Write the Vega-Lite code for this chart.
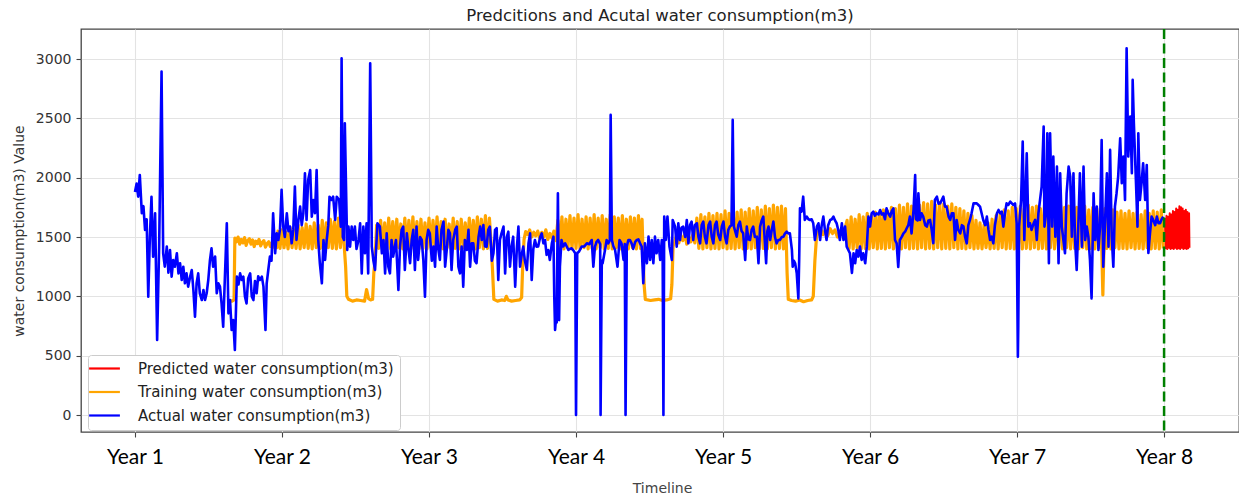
{
"$schema": "https://vega.github.io/schema/vega-lite/v6.json",
"width": 1158, "height": 403,
"autosize": {"type": "none"},
"padding": {"left": 81, "top": 29, "right": 0, "bottom": 64},
"background": "white",
"title": {"text": "Predcitions and Acutal water consumption(m3)", "font": "DejaVu Sans", "fontSize": 16.5, "fontWeight": "normal", "color": "#222222", "anchor": "middle", "baseline": "alphabetic", "offset": 8, "dy": 18},
"config": {
 "view": {"stroke": "#444444", "strokeWidth": 1.3},
 "axis": {"gridColor": "#e3e3e3", "gridWidth": 1.1, "domain": false, "tickColor": "#444444", "tickWidth": 1.1, "tickSize": 5}
},
"datasets": {
"actual": [
{"t":0,"v":1880},{"t":4,"v":1950},{"t":8,"v":1840},{"t":12,"v":2023},{"t":17,"v":1700},{"t":21,"v":1760},{"t":25,"v":1560},{"t":29,"v":1650},{"t":33,"v":997},{"t":37,"v":1500},{"t":41,"v":1840},{"t":45,"v":1335},{"t":50,"v":1700},{"t":55,"v":632},{"t":60,"v":1419},{"t":66,"v":2894},{"t":70,"v":1363},{"t":74,"v":1250},{"t":79,"v":1419},{"t":83,"v":1200},{"t":87,"v":1391},{"t":91,"v":1166},{"t":95,"v":1307},{"t":99,"v":1250},{"t":104,"v":1363},{"t":108,"v":1194},{"t":112,"v":1279},{"t":116,"v":1138},{"t":120,"v":1250},{"t":124,"v":1110},{"t":128,"v":1194},{"t":132,"v":1082},{"t":137,"v":1166},{"t":141,"v":1222},{"t":145,"v":1054},{"t":149,"v":829},{"t":153,"v":1110},{"t":157,"v":1194},{"t":161,"v":1026},{"t":166,"v":969},{"t":170,"v":1054},{"t":174,"v":969},{"t":178,"v":1026},{"t":182,"v":1138},{"t":186,"v":1300},{"t":190,"v":1405},{"t":194,"v":1250},{"t":199,"v":1335},{"t":203,"v":1026},{"t":207,"v":1110},{"t":211,"v":1082},{"t":215,"v":941},{"t":219,"v":745},{"t":223,"v":1138},{"t":228,"v":1616},{"t":232,"v":857},{"t":236,"v":969},{"t":240,"v":717},{"t":244,"v":800},{"t":248,"v":548},{"t":253,"v":1166},{"t":257,"v":1100},{"t":261,"v":1194},{"t":265,"v":1138},{"t":269,"v":1166},{"t":273,"v":1000},{"t":277,"v":941},{"t":281,"v":1150},{"t":286,"v":1194},{"t":290,"v":1000},{"t":294,"v":969},{"t":298,"v":1130},{"t":302,"v":1026},{"t":306,"v":1170},{"t":310,"v":1138},{"t":315,"v":1166},{"t":319,"v":1082},{"t":324,"v":717},{"t":327,"v":1110},{"t":331,"v":1222},{"t":335,"v":1335},{"t":339,"v":1300},{"t":343,"v":1700},{"t":348,"v":1363},{"t":352,"v":1531},{"t":356,"v":1475},{"t":360,"v":1560},{"t":364,"v":1897},{"t":368,"v":1588},{"t":372,"v":1500},{"t":377,"v":1700},{"t":381,"v":1550},{"t":385,"v":1588},{"t":389,"v":1447},{"t":393,"v":1560},{"t":397,"v":1925},{"t":401,"v":1475},{"t":406,"v":1650},{"t":410,"v":1756},{"t":414,"v":1600},{"t":418,"v":1700},{"t":422,"v":2037},{"t":426,"v":1644},{"t":430,"v":1981},{"t":435,"v":2065},{"t":439,"v":1672},{"t":443,"v":1812},{"t":447,"v":1700},{"t":451,"v":2065},{"t":455,"v":1475},{"t":459,"v":1279},{"t":464,"v":1110},{"t":468,"v":1475},{"t":472,"v":1307},{"t":476,"v":1475},{"t":480,"v":1600},{"t":483,"v":1840},{"t":488,"v":1812},{"t":492,"v":1840},{"t":497,"v":1644},{"t":501,"v":1840},{"t":507,"v":1812},{"t":511,"v":1588},{"t":513,"v":3007},{"t":516,"v":1500},{"t":519,"v":1475},{"t":521,"v":2459},{"t":527,"v":1391},{"t":530,"v":1588},{"t":534,"v":1419},{"t":538,"v":1588},{"t":542,"v":1475},{"t":546,"v":1588},{"t":550,"v":1400},{"t":555,"v":1475},{"t":559,"v":1616},{"t":563,"v":1194},{"t":567,"v":1588},{"t":571,"v":1363},{"t":575,"v":1616},{"t":579,"v":1194},{"t":584,"v":2965},{"t":588,"v":1419},{"t":592,"v":1300},{"t":596,"v":1222},{"t":602,"v":1616},{"t":608,"v":1588},{"t":613,"v":1363},{"t":617,"v":1475},{"t":621,"v":1194},{"t":625,"v":1531},{"t":629,"v":1250},{"t":633,"v":1194},{"t":637,"v":1475},{"t":641,"v":1335},{"t":648,"v":1475},{"t":654,"v":1054},{"t":658,"v":1419},{"t":662,"v":1560},{"t":666,"v":1588},{"t":670,"v":1222},{"t":675,"v":1531},{"t":679,"v":1400},{"t":683,"v":1279},{"t":687,"v":1475},{"t":691,"v":1560},{"t":695,"v":1222},{"t":699,"v":1588},{"t":703,"v":1307},{"t":708,"v":1500},{"t":712,"v":1475},{"t":716,"v":1300},{"t":720,"v":997},{"t":724,"v":1475},{"t":728,"v":1560},{"t":732,"v":1531},{"t":737,"v":1300},{"t":741,"v":1419},{"t":745,"v":1250},{"t":749,"v":1588},{"t":753,"v":1400},{"t":757,"v":1307},{"t":761,"v":1560},{"t":766,"v":1630},{"t":770,"v":1250},{"t":774,"v":1391},{"t":778,"v":1560},{"t":782,"v":1531},{"t":786,"v":1222},{"t":790,"v":1475},{"t":795,"v":1560},{"t":799,"v":1588},{"t":803,"v":1250},{"t":807,"v":1194},{"t":811,"v":1419},{"t":815,"v":1082},{"t":819,"v":1475},{"t":824,"v":1391},{"t":828,"v":1560},{"t":832,"v":1250},{"t":836,"v":1447},{"t":840,"v":1447},{"t":844,"v":1300},{"t":848,"v":1279},{"t":853,"v":1500},{"t":857,"v":1588},{"t":861,"v":1475},{"t":865,"v":1600},{"t":869,"v":1420},{"t":873,"v":1419},{"t":877,"v":1560},{"t":881,"v":1588},{"t":886,"v":1300},{"t":890,"v":1363},{"t":894,"v":1560},{"t":898,"v":1574},{"t":902,"v":1138},{"t":906,"v":1475},{"t":910,"v":1531},{"t":915,"v":1588},{"t":919,"v":1194},{"t":923,"v":1500},{"t":927,"v":1545},{"t":931,"v":1250},{"t":935,"v":1420},{"t":939,"v":1503},{"t":944,"v":1082},{"t":948,"v":1400},{"t":952,"v":1588},{"t":956,"v":1250},{"t":960,"v":1350},{"t":964,"v":1419},{"t":968,"v":1300},{"t":973,"v":1222},{"t":977,"v":1447},{"t":981,"v":1531},{"t":985,"v":1138},{"t":989,"v":1400},{"t":993,"v":1475},{"t":997,"v":1419},{"t":1001,"v":1420},{"t":1006,"v":1500},{"t":1010,"v":1531},{"t":1014,"v":1447},{"t":1018,"v":1475},{"t":1022,"v":1350},{"t":1026,"v":1391},{"t":1030,"v":1307},{"t":1035,"v":1447},{"t":1039,"v":1503},{"t":1041,"v":1000},{"t":1043,"v":717},{"t":1045,"v":800},{"t":1047,"v":780},{"t":1050,"v":1869},{"t":1053,"v":800},{"t":1055,"v":1250},{"t":1059,"v":1475},{"t":1063,"v":1420},{"t":1068,"v":1447},{"t":1072,"v":1420},{"t":1076,"v":1391},{"t":1080,"v":1400},{"t":1084,"v":1405},{"t":1088,"v":1390},{"t":1093,"v":1363},{"t":1095,"v":0},{"t":1098,"v":1363},{"t":1103,"v":1380},{"t":1109,"v":1419},{"t":1115,"v":1420},{"t":1122,"v":1447},{"t":1128,"v":1440},{"t":1134,"v":1475},{"t":1138,"v":1250},{"t":1142,"v":1419},{"t":1146,"v":1460},{"t":1150,"v":1475},{"t":1155,"v":1440},{"t":1156,"v":0},{"t":1159,"v":1300},{"t":1161,"v":1279},{"t":1167,"v":1391},{"t":1171,"v":1475},{"t":1175,"v":1447},{"t":1179,"v":1475},{"t":1181,"v":2529},{"t":1184,"v":1475},{"t":1188,"v":1420},{"t":1192,"v":1391},{"t":1198,"v":1250},{"t":1203,"v":1475},{"t":1208,"v":1447},{"t":1213,"v":1307},{"t":1216,"v":1440},{"t":1218,"v":0},{"t":1221,"v":1420},{"t":1225,"v":1475},{"t":1229,"v":1475},{"t":1233,"v":1447},{"t":1237,"v":1400},{"t":1242,"v":1460},{"t":1246,"v":1475},{"t":1250,"v":1480},{"t":1254,"v":1447},{"t":1258,"v":1420},{"t":1262,"v":1110},{"t":1266,"v":1447},{"t":1271,"v":1279},{"t":1275,"v":1503},{"t":1279,"v":1307},{"t":1283,"v":1475},{"t":1287,"v":1279},{"t":1291,"v":1503},{"t":1295,"v":1363},{"t":1299,"v":1475},{"t":1304,"v":1307},{"t":1308,"v":1475},{"t":1310,"v":1400},{"t":1312,"v":0},{"t":1314,"v":1672},{"t":1318,"v":1475},{"t":1322,"v":1672},{"t":1327,"v":1419},{"t":1333,"v":1307},{"t":1335,"v":1644},{"t":1341,"v":1588},{"t":1345,"v":1419},{"t":1349,"v":1616},{"t":1353,"v":1475},{"t":1357,"v":1580},{"t":1361,"v":1588},{"t":1366,"v":1500},{"t":1370,"v":1644},{"t":1374,"v":1447},{"t":1378,"v":1600},{"t":1382,"v":1630},{"t":1386,"v":1475},{"t":1390,"v":1600},{"t":1395,"v":1616},{"t":1399,"v":1500},{"t":1403,"v":1447},{"t":1407,"v":1600},{"t":1411,"v":1630},{"t":1415,"v":1500},{"t":1419,"v":1447},{"t":1424,"v":1600},{"t":1428,"v":1630},{"t":1432,"v":1500},{"t":1436,"v":1447},{"t":1440,"v":1600},{"t":1444,"v":1630},{"t":1448,"v":1520},{"t":1453,"v":1475},{"t":1457,"v":1590},{"t":1461,"v":1630},{"t":1465,"v":1500},{"t":1469,"v":1447},{"t":1473,"v":1560},{"t":1477,"v":1588},{"t":1481,"v":1600},{"t":1484,"v":2487},{"t":1487,"v":1588},{"t":1494,"v":1503},{"t":1498,"v":1600},{"t":1502,"v":1630},{"t":1506,"v":1550},{"t":1510,"v":1531},{"t":1515,"v":1307},{"t":1519,"v":1588},{"t":1523,"v":1480},{"t":1527,"v":1475},{"t":1531,"v":1560},{"t":1535,"v":1588},{"t":1539,"v":1500},{"t":1544,"v":1503},{"t":1548,"v":1279},{"t":1552,"v":1588},{"t":1556,"v":1640},{"t":1560,"v":1672},{"t":1564,"v":1450},{"t":1567,"v":1279},{"t":1570,"v":1550},{"t":1573,"v":1588},{"t":1577,"v":1475},{"t":1581,"v":1560},{"t":1585,"v":1630},{"t":1589,"v":1500},{"t":1593,"v":1447},{"t":1597,"v":1475},{"t":1601,"v":1475},{"t":1606,"v":1500},{"t":1610,"v":1503},{"t":1614,"v":1531},{"t":1618,"v":1545},{"t":1622,"v":1531},{"t":1626,"v":1531},{"t":1631,"v":1391},{"t":1633,"v":1250},{"t":1636,"v":1300},{"t":1639,"v":1279},{"t":1643,"v":1194},{"t":1647,"v":983},{"t":1649,"v":1300},{"t":1651,"v":1742},{"t":1655,"v":1714},{"t":1659,"v":1840},{"t":1663,"v":1644},{"t":1668,"v":1672},{"t":1672,"v":1650},{"t":1676,"v":1644},{"t":1680,"v":1650},{"t":1684,"v":1616},{"t":1688,"v":1475},{"t":1693,"v":1588},{"t":1697,"v":1616},{"t":1701,"v":1475},{"t":1705,"v":1600},{"t":1709,"v":1672},{"t":1713,"v":1560},{"t":1717,"v":1475},{"t":1721,"v":1600},{"t":1726,"v":1644},{"t":1730,"v":1650},{"t":1734,"v":1672},{"t":1738,"v":1640},{"t":1742,"v":1616},{"t":1746,"v":1560},{"t":1750,"v":1475},{"t":1755,"v":1616},{"t":1759,"v":1475},{"t":1763,"v":1588},{"t":1767,"v":1419},{"t":1771,"v":1391},{"t":1775,"v":1363},{"t":1780,"v":1197},{"t":1784,"v":1363},{"t":1788,"v":1279},{"t":1792,"v":1391},{"t":1796,"v":1335},{"t":1800,"v":1419},{"t":1804,"v":1307},{"t":1808,"v":1363},{"t":1813,"v":1279},{"t":1817,"v":1419},{"t":1821,"v":1672},{"t":1825,"v":1588},{"t":1829,"v":1700},{"t":1833,"v":1714},{"t":1837,"v":1680},{"t":1841,"v":1700},{"t":1846,"v":1690},{"t":1850,"v":1728},{"t":1854,"v":1690},{"t":1858,"v":1700},{"t":1862,"v":1650},{"t":1866,"v":1742},{"t":1870,"v":1700},{"t":1875,"v":1672},{"t":1879,"v":1720},{"t":1883,"v":1742},{"t":1887,"v":1475},{"t":1891,"v":1447},{"t":1895,"v":1248},{"t":1899,"v":1475},{"t":1904,"v":1503},{"t":1908,"v":1531},{"t":1912,"v":1545},{"t":1916,"v":1574},{"t":1920,"v":1600},{"t":1924,"v":1672},{"t":1928,"v":1531},{"t":1933,"v":1728},{"t":1937,"v":2023},{"t":1939,"v":1650},{"t":1943,"v":1640},{"t":1945,"v":1869},{"t":1949,"v":1644},{"t":1953,"v":1700},{"t":1957,"v":1672},{"t":1962,"v":1600},{"t":1966,"v":1588},{"t":1970,"v":1640},{"t":1974,"v":1644},{"t":1978,"v":1560},{"t":1982,"v":1447},{"t":1986,"v":1812},{"t":1991,"v":1840},{"t":1995,"v":1780},{"t":1999,"v":1784},{"t":2003,"v":1812},{"t":2007,"v":1840},{"t":2011,"v":1756},{"t":2015,"v":1756},{"t":2020,"v":1672},{"t":2024,"v":1644},{"t":2028,"v":1700},{"t":2032,"v":1700},{"t":2036,"v":1475},{"t":2040,"v":1644},{"t":2044,"v":1560},{"t":2049,"v":1531},{"t":2053,"v":1600},{"t":2057,"v":1588},{"t":2061,"v":1500},{"t":2065,"v":1447},{"t":2069,"v":1600},{"t":2073,"v":1644},{"t":2077,"v":1700},{"t":2082,"v":1784},{"t":2086,"v":1784},{"t":2090,"v":1784},{"t":2094,"v":1770},{"t":2098,"v":1756},{"t":2102,"v":1700},{"t":2106,"v":1644},{"t":2111,"v":1600},{"t":2115,"v":1672},{"t":2119,"v":1560},{"t":2123,"v":1475},{"t":2127,"v":1503},{"t":2131,"v":1447},{"t":2135,"v":1600},{"t":2140,"v":1700},{"t":2144,"v":1728},{"t":2148,"v":1700},{"t":2152,"v":1714},{"t":2156,"v":1588},{"t":2160,"v":1700},{"t":2164,"v":1784},{"t":2168,"v":1770},{"t":2173,"v":1798},{"t":2177,"v":1784},{"t":2181,"v":1770},{"t":2185,"v":1784},{"t":2189,"v":1616},{"t":2192,"v":492},{"t":2193,"v":750},{"t":2195,"v":1588},{"t":2200,"v":1812},{"t":2204,"v":2304},{"t":2208,"v":1475},{"t":2214,"v":2206},{"t":2218,"v":1588},{"t":2222,"v":1616},{"t":2226,"v":1560},{"t":2231,"v":1616},{"t":2235,"v":1644},{"t":2239,"v":1475},{"t":2243,"v":1700},{"t":2247,"v":1812},{"t":2251,"v":1925},{"t":2256,"v":2431},{"t":2258,"v":1588},{"t":2262,"v":1700},{"t":2265,"v":2375},{"t":2269,"v":1279},{"t":2272,"v":2375},{"t":2277,"v":1588},{"t":2280,"v":2178},{"t":2285,"v":1503},{"t":2289,"v":2093},{"t":2293,"v":1279},{"t":2297,"v":2037},{"t":2301,"v":1588},{"t":2305,"v":1475},{"t":2309,"v":1363},{"t":2313,"v":1869},{"t":2318,"v":2093},{"t":2322,"v":2009},{"t":2326,"v":1503},{"t":2330,"v":2037},{"t":2334,"v":1475},{"t":2338,"v":1222},{"t":2342,"v":1588},{"t":2346,"v":2037},{"t":2351,"v":1419},{"t":2355,"v":2093},{"t":2359,"v":1475},{"t":2363,"v":1588},{"t":2367,"v":1503},{"t":2371,"v":1307},{"t":2375,"v":983},{"t":2380,"v":1869},{"t":2384,"v":1475},{"t":2388,"v":1756},{"t":2392,"v":1391},{"t":2396,"v":1588},{"t":2400,"v":2318},{"t":2404,"v":1250},{"t":2408,"v":1588},{"t":2413,"v":2037},{"t":2417,"v":1419},{"t":2421,"v":2234},{"t":2425,"v":1503},{"t":2429,"v":1250},{"t":2433,"v":1756},{"t":2437,"v":1869},{"t":2441,"v":2009},{"t":2446,"v":2332},{"t":2450,"v":1953},{"t":2454,"v":2178},{"t":2458,"v":1812},{"t":2462,"v":3091},{"t":2466,"v":2178},{"t":2471,"v":2515},{"t":2475,"v":2037},{"t":2477,"v":2824},{"t":2480,"v":2459},{"t":2485,"v":1981},{"t":2489,"v":1588},{"t":2491,"v":2375},{"t":2495,"v":1812},{"t":2499,"v":1953},{"t":2503,"v":2122},{"t":2508,"v":1812},{"t":2512,"v":2107},{"t":2516,"v":1366},{"t":2520,"v":1531},{"t":2524,"v":1672},{"t":2528,"v":1644},{"t":2533,"v":1600},{"t":2537,"v":1672},{"t":2541,"v":1616},{"t":2545,"v":1616},{"t":2549,"v":1650},{"t":2553,"v":1672}
],
"train": [
{"t":236,"v":965},{"t":241,"v":960},{"t":246,"v":970},{"t":248,"v":1492},{"t":252,"v":1460},{"t":256,"v":1500},{"t":260,"v":1440},{"t":264,"v":1480},{"t":268,"v":1450},{"t":272,"v":1495},{"t":276,"v":1430},{"t":280,"v":1470},{"t":284,"v":1485},{"t":288,"v":1440},{"t":292,"v":1475},{"t":296,"v":1420},{"t":300,"v":1465},{"t":304,"v":1445},{"t":308,"v":1480},{"t":312,"v":1425},{"t":316,"v":1455},{"t":320,"v":1470},{"t":324,"v":1415},{"t":328,"v":1445},{"t":332,"v":1460},{"t":336,"v":1420},{"t":340,"v":1450},{"t":344,"v":1415},{"t":348,"v":1440},{"t":352,"v":1410},
{"t":355,"v":1550},{"t":360,"v":1405},{"t":365,"v":1560},{"t":370,"v":1410},{"t":375,"v":1540},{"t":380,"v":1400},{"t":385,"v":1580},{"t":390,"v":1410},{"t":395,"v":1560},{"t":400,"v":1405},{"t":405,"v":1600},{"t":410,"v":1400},{"t":415,"v":1580},{"t":420,"v":1410},{"t":425,"v":1610},{"t":430,"v":1405},{"t":435,"v":1590},{"t":440,"v":1400},{"t":445,"v":1620},{"t":450,"v":1410},{"t":455,"v":1600},{"t":460,"v":1405},{"t":465,"v":1640},{"t":470,"v":1400},{"t":475,"v":1620},{"t":480,"v":1410},{"t":485,"v":1650},{"t":490,"v":1405},{"t":495,"v":1630},{"t":500,"v":1400},{"t":505,"v":1660},{"t":510,"v":1410},{"t":515,"v":1640},{"t":520,"v":1400},
{"t":523,"v":1250},{"t":526,"v":1000},{"t":530,"v":975},{"t":540,"v":960},{"t":550,"v":970},{"t":560,"v":965},{"t":570,"v":960},{"t":575,"v":1057},{"t":580,"v":980},{"t":585,"v":970},{"t":590,"v":975},{"t":593,"v":1197},{"t":596,"v":1300},
{"t":600,"v":1600},{"t":605,"v":1405},{"t":610,"v":1640},{"t":615,"v":1400},{"t":620,"v":1620},{"t":625,"v":1410},{"t":630,"v":1660},{"t":635,"v":1400},{"t":640,"v":1630},{"t":645,"v":1405},{"t":650,"v":1650},{"t":655,"v":1410},{"t":660,"v":1610},{"t":665,"v":1400},{"t":670,"v":1660},{"t":675,"v":1405},{"t":680,"v":1640},{"t":685,"v":1400},{"t":690,"v":1670},{"t":695,"v":1410},{"t":700,"v":1630},{"t":705,"v":1400},{"t":710,"v":1650},{"t":715,"v":1405},{"t":720,"v":1620},{"t":725,"v":1400},{"t":730,"v":1660},{"t":735,"v":1410},{"t":740,"v":1640},{"t":745,"v":1400},{"t":750,"v":1670},{"t":755,"v":1405},{"t":760,"v":1630},{"t":765,"v":1400},{"t":770,"v":1650},{"t":775,"v":1410},{"t":780,"v":1610},{"t":785,"v":1400},{"t":790,"v":1660},{"t":795,"v":1405},{"t":800,"v":1630},{"t":805,"v":1400},{"t":810,"v":1650},{"t":815,"v":1410},{"t":820,"v":1620},{"t":825,"v":1400},{"t":830,"v":1660},{"t":835,"v":1405},{"t":840,"v":1640},{"t":845,"v":1400},{"t":850,"v":1670},{"t":855,"v":1410},{"t":860,"v":1650},{"t":865,"v":1400},{"t":870,"v":1680},{"t":875,"v":1405},{"t":880,"v":1660},{"t":885,"v":1400},
{"t":888,"v":1200},{"t":891,"v":975},{"t":900,"v":960},{"t":910,"v":970},{"t":918,"v":965},{"t":922,"v":1000},{"t":926,"v":970},{"t":935,"v":960},{"t":945,"v":965},{"t":955,"v":970},{"t":960,"v":990},{"t":963,"v":1300},
{"t":966,"v":1480},{"t":970,"v":1545},{"t":975,"v":1520},{"t":980,"v":1560},{"t":985,"v":1500},{"t":990,"v":1540},{"t":995,"v":1510},{"t":1000,"v":1550},{"t":1005,"v":1490},{"t":1010,"v":1540},{"t":1015,"v":1500},{"t":1020,"v":1560},{"t":1025,"v":1480},{"t":1030,"v":1530},{"t":1035,"v":1490},{"t":1040,"v":1550},{"t":1045,"v":1470},
{"t":1050,"v":1640},{"t":1055,"v":1405},{"t":1060,"v":1670},{"t":1065,"v":1400},{"t":1070,"v":1650},{"t":1075,"v":1410},{"t":1080,"v":1680},{"t":1085,"v":1400},{"t":1090,"v":1660},{"t":1095,"v":1405},{"t":1100,"v":1690},{"t":1105,"v":1400},{"t":1110,"v":1650},{"t":1115,"v":1410},{"t":1120,"v":1670},{"t":1125,"v":1400},{"t":1130,"v":1660},{"t":1135,"v":1405},{"t":1140,"v":1690},{"t":1145,"v":1400},{"t":1150,"v":1660},{"t":1155,"v":1410},{"t":1160,"v":1680},{"t":1165,"v":1400},{"t":1170,"v":1650},{"t":1175,"v":1405},{"t":1180,"v":1690},{"t":1185,"v":1400},{"t":1190,"v":1670},{"t":1195,"v":1410},{"t":1200,"v":1660},{"t":1205,"v":1400},{"t":1210,"v":1680},{"t":1215,"v":1405},{"t":1220,"v":1650},{"t":1225,"v":1400},{"t":1230,"v":1670},{"t":1235,"v":1410},{"t":1240,"v":1660},{"t":1245,"v":1400},{"t":1250,"v":1680},{"t":1255,"v":1405},{"t":1259,"v":1650},
{"t":1262,"v":1300},{"t":1264,"v":1100},{"t":1267,"v":975},{"t":1280,"v":965},{"t":1290,"v":970},{"t":1300,"v":975},{"t":1310,"v":965},{"t":1320,"v":970},{"t":1330,"v":980},{"t":1333,"v":1100},{"t":1336,"v":1420},
{"t":1340,"v":1460},{"t":1345,"v":1520},{"t":1350,"v":1450},{"t":1355,"v":1510},{"t":1360,"v":1470},{"t":1365,"v":1530},{"t":1370,"v":1440},{"t":1375,"v":1500},{"t":1380,"v":1460},{"t":1385,"v":1520},{"t":1390,"v":1450},
{"t":1395,"v":1660},{"t":1400,"v":1405},{"t":1405,"v":1690},{"t":1410,"v":1400},{"t":1415,"v":1670},{"t":1420,"v":1410},{"t":1425,"v":1700},{"t":1430,"v":1400},{"t":1435,"v":1680},{"t":1440,"v":1405},{"t":1445,"v":1700},{"t":1450,"v":1400},{"t":1455,"v":1690},{"t":1460,"v":1410},{"t":1465,"v":1720},{"t":1470,"v":1400},{"t":1475,"v":1700},{"t":1480,"v":1405},{"t":1485,"v":1720},{"t":1490,"v":1400},{"t":1495,"v":1710},{"t":1500,"v":1410},{"t":1505,"v":1730},{"t":1510,"v":1400},{"t":1515,"v":1710},{"t":1520,"v":1405},{"t":1525,"v":1740},{"t":1530,"v":1400},{"t":1535,"v":1720},{"t":1540,"v":1410},{"t":1545,"v":1750},{"t":1550,"v":1400},{"t":1555,"v":1730},{"t":1560,"v":1405},{"t":1565,"v":1760},{"t":1570,"v":1400},{"t":1575,"v":1740},{"t":1580,"v":1410},{"t":1585,"v":1770},{"t":1590,"v":1400},{"t":1595,"v":1750},{"t":1600,"v":1405},{"t":1605,"v":1760},{"t":1610,"v":1400},{"t":1615,"v":1740},
{"t":1619,"v":1200},{"t":1622,"v":975},{"t":1630,"v":965},{"t":1640,"v":960},{"t":1650,"v":970},{"t":1660,"v":955},{"t":1670,"v":965},{"t":1680,"v":970},{"t":1684,"v":1000},{"t":1688,"v":1300},{"t":1692,"v":1500},
{"t":1696,"v":1540},{"t":1702,"v":1570},{"t":1708,"v":1520},{"t":1714,"v":1560},{"t":1720,"v":1510},{"t":1726,"v":1570},{"t":1732,"v":1530},{"t":1738,"v":1560},{"t":1744,"v":1500},{"t":1750,"v":1550},{"t":1756,"v":1520},{"t":1762,"v":1560},
{"t":1768,"v":1640},{"t":1773,"v":1405},{"t":1778,"v":1670},{"t":1783,"v":1400},{"t":1788,"v":1650},{"t":1793,"v":1410},{"t":1798,"v":1690},{"t":1803,"v":1400},{"t":1808,"v":1670},{"t":1813,"v":1405},{"t":1818,"v":1700},{"t":1823,"v":1400},{"t":1828,"v":1680},{"t":1833,"v":1410},{"t":1838,"v":1710},{"t":1843,"v":1400},{"t":1848,"v":1700},{"t":1853,"v":1405},{"t":1858,"v":1730},{"t":1863,"v":1400},{"t":1868,"v":1720},{"t":1873,"v":1410},{"t":1878,"v":1750},{"t":1883,"v":1400},{"t":1888,"v":1740},{"t":1893,"v":1405},{"t":1898,"v":1770},{"t":1903,"v":1400},{"t":1908,"v":1750},{"t":1913,"v":1410},{"t":1918,"v":1780},{"t":1923,"v":1400},{"t":1928,"v":1760},{"t":1933,"v":1405},{"t":1938,"v":1790},{"t":1943,"v":1400},{"t":1948,"v":1770},{"t":1953,"v":1410},{"t":1958,"v":1790},{"t":1963,"v":1400},{"t":1968,"v":1780},{"t":1973,"v":1405},{"t":1978,"v":1800},{"t":1983,"v":1400},{"t":1988,"v":1770},{"t":1993,"v":1410},{"t":1998,"v":1790},{"t":2003,"v":1400},{"t":2008,"v":1780},{"t":2013,"v":1405},{"t":2018,"v":1760},{"t":2023,"v":1400},{"t":2028,"v":1780},{"t":2033,"v":1410},{"t":2038,"v":1750},{"t":2043,"v":1400},{"t":2048,"v":1740},{"t":2053,"v":1405},{"t":2058,"v":1720},{"t":2063,"v":1400},{"t":2068,"v":1700},{"t":2073,"v":1410},{"t":2078,"v":1680},{"t":2083,"v":1400},{"t":2088,"v":1640},{"t":2093,"v":1405},{"t":2098,"v":1620},{"t":2103,"v":1400},{"t":2108,"v":1600},{"t":2113,"v":1410},{"t":2118,"v":1620},{"t":2123,"v":1400},{"t":2128,"v":1650},{"t":2133,"v":1405},{"t":2138,"v":1680},{"t":2143,"v":1400},{"t":2148,"v":1700},{"t":2153,"v":1410},{"t":2158,"v":1730},{"t":2163,"v":1400},{"t":2168,"v":1720},{"t":2173,"v":1405},{"t":2178,"v":1750},{"t":2183,"v":1400},{"t":2188,"v":1740},{"t":2193,"v":1410},{"t":2198,"v":1760},{"t":2203,"v":1400},{"t":2208,"v":1740},{"t":2213,"v":1405},{"t":2218,"v":1770},{"t":2223,"v":1400},{"t":2228,"v":1750},{"t":2233,"v":1410},{"t":2238,"v":1760},{"t":2243,"v":1400},{"t":2248,"v":1740},{"t":2253,"v":1405},{"t":2258,"v":1770},{"t":2263,"v":1400},{"t":2268,"v":1750},{"t":2273,"v":1410},{"t":2278,"v":1760},{"t":2283,"v":1400},{"t":2288,"v":1740},{"t":2293,"v":1405},{"t":2298,"v":1770},{"t":2303,"v":1400},{"t":2308,"v":1750},{"t":2313,"v":1410},{"t":2318,"v":1760},{"t":2323,"v":1400},{"t":2328,"v":1730},{"t":2333,"v":1405},{"t":2338,"v":1750},{"t":2343,"v":1400},{"t":2348,"v":1740},{"t":2353,"v":1410},{"t":2358,"v":1760},{"t":2363,"v":1400},{"t":2368,"v":1730},{"t":2373,"v":1405},{"t":2378,"v":1750},{"t":2383,"v":1400},{"t":2388,"v":1740},{"t":2393,"v":1410},{"t":2398,"v":1720},{"t":2403,"v":1012},{"t":2408,"v":1740},{"t":2413,"v":1405},{"t":2418,"v":1720},{"t":2423,"v":1400},{"t":2428,"v":1730},{"t":2433,"v":1410},{"t":2438,"v":1710},{"t":2443,"v":1400},{"t":2448,"v":1720},{"t":2453,"v":1405},{"t":2458,"v":1700},{"t":2463,"v":1400},{"t":2468,"v":1720},{"t":2473,"v":1410},{"t":2478,"v":1700},{"t":2483,"v":1400},{"t":2488,"v":1710},{"t":2493,"v":1405},{"t":2498,"v":1690},{"t":2503,"v":1400},{"t":2508,"v":1720},{"t":2513,"v":1410},{"t":2518,"v":1700},{"t":2523,"v":1400},{"t":2528,"v":1720},{"t":2533,"v":1405},{"t":2538,"v":1710},{"t":2543,"v":1400},{"t":2548,"v":1730},{"t":2553,"v":1405}
],
"pred": [
{"t":2557,"v":1660},{"t":2559,"v":1405},{"t":2561,"v":1680},{"t":2563,"v":1400},{"t":2565,"v":1670},{"t":2567,"v":1410},{"t":2569,"v":1700},{"t":2571,"v":1400},{"t":2573,"v":1690},{"t":2575,"v":1405},{"t":2577,"v":1720},{"t":2579,"v":1400},{"t":2581,"v":1710},{"t":2583,"v":1410},{"t":2585,"v":1740},{"t":2587,"v":1400},{"t":2589,"v":1730},{"t":2591,"v":1405},{"t":2593,"v":1760},{"t":2595,"v":1400},{"t":2597,"v":1750},{"t":2599,"v":1410},{"t":2601,"v":1740},{"t":2603,"v":1400},{"t":2605,"v":1720},{"t":2607,"v":1405},{"t":2609,"v":1730},{"t":2611,"v":1400},{"t":2613,"v":1710},{"t":2615,"v":1405},{"t":2617,"v":1700},{"t":2618,"v":1410}
],
"marker": [{"t":2555}]
},
"encoding": {
 "x": {"field": "t", "type": "quantitative",
  "scale": {"domain": [-134, 2741], "nice": false, "zero": false},
  "axis": {"values": [0,365,730,1095,1460,1825,2190,2555], "labelExpr": "'Year ' + (round(datum.value / 365) + 1)", "labelFont": "Lato", "labelFontSize": 21, "labelColor": "#000000", "labelBaseline": "alphabetic", "labelPadding": 26, "labelDx": 7, "labelFlush": false, "labelOverlap": false, "title": "Timeline", "titleFont": "DejaVu Sans", "titleFontSize": 14, "titleFontWeight": "normal", "titleColor": "#444444", "titleX": 581, "titleY": 60, "titleBaseline": "alphabetic", "titleAlign": "center", "grid": true}}
},
"layer": [
 {"data": {"name": "pred"}, "mark": {"type": "line", "strokeWidth": 2, "strokeJoin": "round"},
  "encoding": {
   "y": {"field": "v", "type": "quantitative", "scale": {"domain": [-143, 3253], "nice": false, "zero": false}, "axis": {"values": [0,500,1000,1500,2000,2500,3000], "format": "d", "labelFont": "DejaVu Sans", "labelFontSize": 14, "labelColor": "#333333", "labelPadding": 5, "title": "water consumption(m3) Value", "titleFont": "DejaVu Sans", "titleFontSize": 14, "titleFontWeight": "normal", "titleColor": "#333333", "titleX": -62, "titleY": 201.5, "titleAngle": 270, "titleAlign": "center", "titleBaseline": "middle", "grid": true}},
   "color": {"datum": "Predicted water consumption(m3)", "scale": {"domain": ["Predicted water consumption(m3)", "Training water consumption(m3)", "Actual water consumption(m3)"], "range": ["#ff0000", "#ffa500", "#0000ff"]}, "legend": {"title": null, "orient": "none", "legendX": 7, "legendY": 326, "padding": 6, "fillColor": "#ffffff", "strokeColor": "#cccccc", "cornerRadius": 3, "symbolType": "M-4.4,0H4.4", "symbolSize": 49, "symbolStrokeWidth": 2.2, "symbolOffset": 3, "labelOffset": 26, "rowPadding": 7.5, "labelFont": "DejaVu Sans", "labelFontSize": 15, "labelColor": "#222222", "labelLimit": 400, "symbolOpacity": 1}}
  }},
 {"data": {"name": "train"}, "mark": {"type": "line", "strokeWidth": 3.2, "strokeJoin": "round"},
  "encoding": {
   "y": {"field": "v", "type": "quantitative", "scale": {"domain": [-143, 3253], "nice": false, "zero": false}},
   "color": {"datum": "Training water consumption(m3)"}
  }},
 {"data": {"name": "actual"}, "mark": {"type": "line", "strokeWidth": 2.6, "strokeJoin": "round"},
  "encoding": {
   "y": {"field": "v", "type": "quantitative", "scale": {"domain": [-143, 3253], "nice": false, "zero": false}},
   "color": {"datum": "Actual water consumption(m3)"}
  }},
 {"data": {"name": "marker"}, "mark": {"type": "rule", "color": "#008000", "strokeWidth": 2.5, "strokeDash": [10, 4.5]}, "encoding": {}}
]
}
